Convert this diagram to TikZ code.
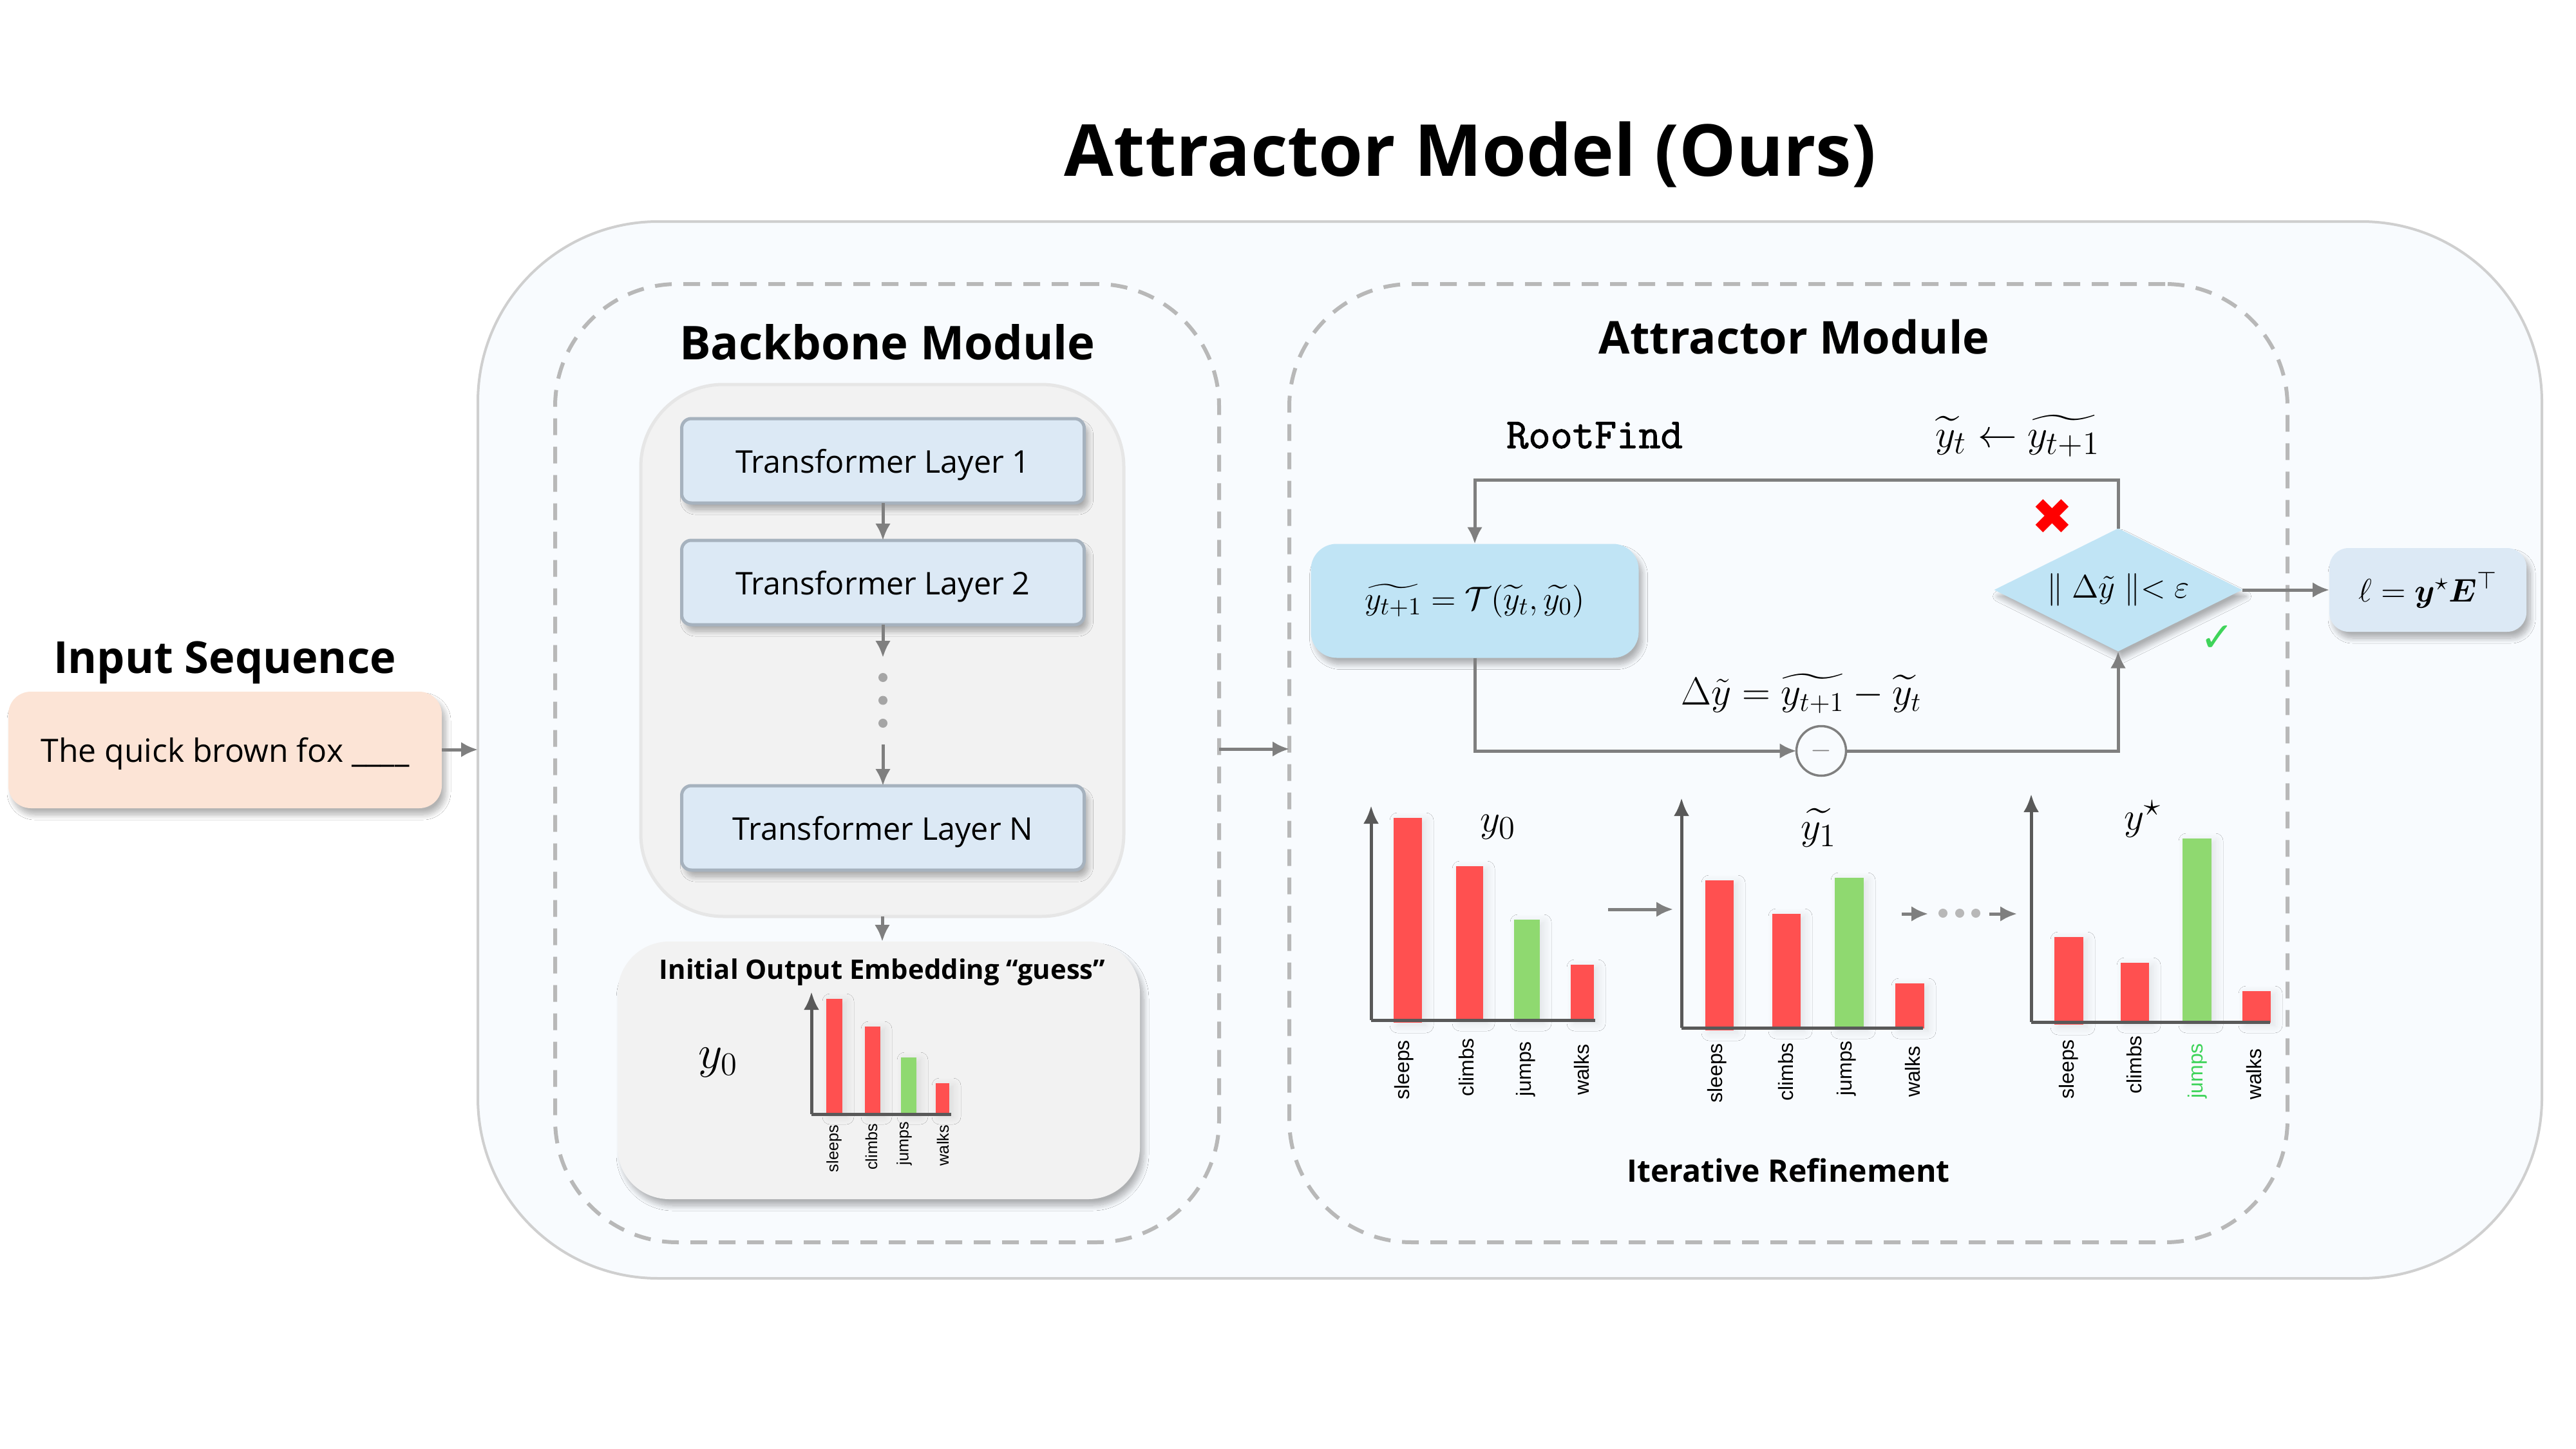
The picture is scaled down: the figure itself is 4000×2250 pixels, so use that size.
\documentclass[tikz,border=0pt]{standalone}
\usepackage{amsmath,amssymb}
\usepackage[no-math]{fontspec}
\setmainfont{Open Sans}
\newfontfamily\tickfont{Liberation Sans}
\newfontfamily\markfont{DejaVu Sans}
\newfontfamily\rootfont[FakeBold=1.6]{Latin Modern Mono}
\usepackage{xcolor}
\usepackage{tikz}
\usetikzlibrary{arrows.meta,positioning,shapes.geometric,shadows.blur}
\definecolor{panelfill}{HTML}{F8FBFE}
\definecolor{panelline}{HTML}{CFCFCF}
\definecolor{dashline}{HTML}{B8B8B8}
\definecolor{groupfill}{HTML}{F2F2F2}
\definecolor{groupline}{HTML}{E6E6E6}
\definecolor{layerfill}{HTML}{DCE9F5}
\definecolor{layerline}{HTML}{A6B2BE}
\definecolor{stepfill}{HTML}{C0E4F5}
\definecolor{inputfill}{HTML}{FCE4D6}
\definecolor{flowgray}{HTML}{7F7F7F}
\definecolor{axisgray}{HTML}{595959}
\definecolor{barred}{HTML}{FF5050}
\definecolor{bargreen}{HTML}{8FD970}
\definecolor{tickgreen}{HTML}{3FD45A}
\newcommand{\fsize}[1]{\fontsize{#1}{#1}\selectfont}
\newcommand{\yt}{\widetilde{y}}
\newcommand{\ytnext}{\widetilde{y_{t+1}}}
\tikzset{
  softshadow/.style={blur shadow={shadow xshift=0.6mm,shadow yshift=-1mm,shadow opacity=30,shadow blur radius=0.8mm,shadow blur steps=12}},
  barshadow/.style={blur shadow={shadow xshift=0.6mm,shadow yshift=-0.4mm,shadow opacity=10,shadow blur radius=1.2mm,shadow blur steps=12}},
  panel/.style={draw=panelline, line width=0.4mm, fill=panelfill, rounded corners=28mm},
  module/.style={draw=dashline, line width=0.6mm, dash pattern=on 2.6mm off 1.8mm, rounded corners=19mm},
  layerbox/.style={draw=layerline, line width=0.5mm, fill=layerfill, rounded corners=1.5mm, minimum width=62.5mm, minimum height=13.1mm, inner sep=0pt, text depth=0pt, font=\fsize{13.8}, softshadow},
  vdot/.style={circle, fill=flowgray!70, minimum size=1.4mm, inner sep=0pt},
  heading/.style={font=\fsize{20}\bfseries, inner sep=0pt},
  mathlabel/.style={font=\fsize{19}, inner sep=0pt},
  flow/.style={draw=flowgray, line width=0.5mm, -{Latex[length=2.6mm,width=2.4mm]}},
  axisline/.style={draw=axisgray, line width=0.5mm},
  axisarrow/.style={axisline, -{Latex[length=2.8mm,width=2.4mm]}},
  redbar/.style={fill=barred, barshadow},
  greenbar/.style={fill=bargreen, barshadow},
  bigtick/.style={rotate=90, anchor=east, inner sep=0pt, font=\tickfont\fsize{9.1}},
  smalltick/.style={rotate=90, anchor=east, inner sep=0pt, font=\tickfont\fsize{7.2}},
}
\begin{document}
\begin{tikzpicture}[x=0.1mm, y=-0.1mm, >=Latex, every node/.style={align=center, outer sep=0pt}]
  \useasboundingbox (0,0) rectangle (4000,2250);
  \fill[white] (0,0) rectangle (4000,2250);

  % Containers
  \node[heading, font=\fsize{31.7}\bfseries] (title) at (2283,240) {Attractor Model (Ours)};
  \node[panel, minimum width=320.5mm, minimum height=164.1mm] (outer) at (2344.5,1164.5) {};
  \node[module, minimum width=103.1mm, minimum height=148.8mm] (backbone) at (1377.5,1185) {};
  \node[module, minimum width=155.0mm, minimum height=148.8mm] (attractor) at (2777,1185) {};
  \node[heading, font=\fsize{20.6}\bfseries] (backbonetitle) at (1378,531) {Backbone Module};
  \node[heading] (attractortitle) at (2786,523) {Attractor Module};

  % Input
  \node[heading, font=\fsize{19.5}\bfseries] (inputtitle) at (349,1029) {Input Sequence};
  \node[fill=inputfill, rounded corners=3.5mm, minimum width=67.3mm, minimum height=18.1mm, text depth=0pt, font=\fsize{14.2}, softshadow] (input) at (349.5,1164.5) {The quick brown fox \_\_\_\_};

  % Backbone stack
  \node[draw=groupline, line width=0.5mm, fill=groupfill, rounded corners=12.8mm, minimum width=75mm, minimum height=82.6mm] (group) at (1370,1010) {};
  \node[layerbox] (layer1) at (1371,715.5) {Transformer Layer 1};
  \node[layerbox, below=5.8mm of layer1] (layer2) {Transformer Layer 2};
  \node[vdot, below=7.5mm of layer2] (dot1) {};
  \node[vdot, below=2.15mm of dot1] (dot2) {};
  \node[vdot, below=2.15mm of dot2] (dot3) {};
  \node[layerbox, below=9mm of dot3] (layerN) {Transformer Layer N};

  % Initial guess panel
  \node[fill=groupfill, rounded corners=8mm, minimum width=81.1mm, minimum height=40mm, softshadow] (guess) at (1364.5,1662) {};
  \node[font=\fsize{11.9}\bfseries, inner sep=0pt] (guesstitle) at (1370,1510) {Initial Output Embedding “guess"};
  \node[mathlabel, font=\fsize{22}] (guessy) at (1115,1650) {$y_0$};
  \fill[redbar] (1283,1551) rectangle (1308,1730);
  \fill[redbar] (1343,1594) rectangle (1367,1730);
  \fill[greenbar] (1399,1642) rectangle (1423,1730);
  \fill[redbar] (1453,1682) rectangle (1474,1730);
  \draw[axisline] (1260,1730) -- (1477,1730);
  \draw[axisarrow] (1260,1730) -- (1260,1540);
  \node[smalltick] (s1) at (1295,1747) {sleeps};
  \node[smalltick] (s2) at (1353,1745) {climbs};
  \node[smalltick] (s3) at (1404,1742) {jumps};
  \node[smalltick] (s4) at (1464,1747) {walks};

  % RootFind loop
  \node[font=\rootfont\fsize{18.9}, inner sep=0pt] (rootfind) at (2476,676) {RootFind};
  \node[mathlabel] (update) at (3133,677) {$\yt_t \leftarrow \ytnext$};
  \node[fill=stepfill, rounded corners=4mm, minimum width=50.9mm, minimum height=17.7mm, font=\fsize{15}, softshadow] (stepbox) at (2290,933) {$\ytnext = \mathcal{T}(\yt_t, \widetilde{y_0})$};
  \node[diamond, shape aspect=2.02, fill=stepfill, minimum width=38.5mm, minimum height=19.1mm, inner sep=0pt, font=\fsize{14.3}, softshadow] (decide) at (3289,916) {$\parallel \Delta\tilde{y} \parallel < \varepsilon$};
  \node[circle, draw=flowgray, line width=0.35mm, fill=panelfill, minimum size=7.7mm, inner sep=0pt, text=flowgray, font=\fsize{12}] (minus) at (2828,1166) {$-$};
  \coordinate (looptop) at (2800,745);
  \node[mathlabel, font=\fsize{18.3}] (delta) at (2797,1077) {$\Delta\tilde{y} = \ytnext - \yt_t$};
  \node[text=red, font=\markfont\fsize{22}, inner sep=0pt] (cross) at (3187,803) {✖};
  \node[text=tickgreen, font=\markfont\fsize{18}, inner sep=0pt] (check) at (3443,992) {✓};
  \node[fill=layerfill, rounded corners=3mm, minimum width=30.6mm, minimum height=13mm, font=\fsize{15.5}, softshadow] (loss) at (3770,916) {$\ell = \boldsymbol{y}^{\star}\boldsymbol{E}^{\top}$};

  % Refinement charts
  \fill[redbar] (2164,1270) rectangle (2208,1588);
  \fill[redbar] (2261,1345) rectangle (2303,1585);
  \fill[greenbar] (2351,1428) rectangle (2391,1585);
  \fill[redbar] (2439,1498) rectangle (2475,1585);
  \draw[axisline] (2129,1584) -- (2477,1584);
  \draw[axisarrow] (2129,1584) -- (2129,1251);
  \node[mathlabel] (y0) at (2326,1284) {$y_0$};
  \node[bigtick] (a1) at (2180,1615) {sleeps};
  \node[bigtick] (a2) at (2277,1612) {climbs};
  \node[bigtick] (a3) at (2369,1617) {jumps};
  \node[bigtick] (a4) at (2456,1621) {walks};

  \fill[redbar] (2648,1367) rectangle (2692,1600);
  \fill[redbar] (2752,1419) rectangle (2796,1597);
  \fill[greenbar] (2849,1363) rectangle (2894,1597);
  \fill[redbar] (2943,1527) rectangle (2988,1597);
  \draw[axisline] (2611,1596) -- (2986,1596);
  \draw[axisarrow] (2611,1596) -- (2611,1239);
  \node[mathlabel] (y1) at (2824,1285) {$\widetilde{y_1}$};
  \node[bigtick] (b1) at (2666,1620) {sleeps};
  \node[bigtick] (b2) at (2773,1619) {climbs};
  \node[bigtick] (b3) at (2867,1616) {jumps};
  \node[bigtick] (b4) at (2970,1624) {walks};

  \fill[redbar] (3190,1455) rectangle (3235,1591);
  \fill[redbar] (3293,1495) rectangle (3337,1588);
  \fill[greenbar] (3389,1302) rectangle (3434,1588);
  \fill[redbar] (3482,1539) rectangle (3526,1588);
  \draw[axisline] (3154,1587) -- (3525,1587);
  \draw[axisarrow] (3154,1587) -- (3154,1233);
  \node[mathlabel] (ystar) at (3327,1272) {$y^{\star}$};
  \node[bigtick] (c1) at (3212,1614) {sleeps};
  \node[bigtick] (c2) at (3314,1608) {climbs};
  \node[bigtick, text=tickgreen] (c3) at (3412,1620) {jumps};
  \node[bigtick] (c4) at (3500,1628) {walks};

  \coordinate (ref1a) at (2497,1412);
  \coordinate (ref1b) at (2598,1412);
  \coordinate (ref2a) at (2953,1419);
  \coordinate (ref2b) at (2994,1419);
  \coordinate (ref3a) at (3089,1419);
  \coordinate (ref3b) at (3132,1419);
  \node[vdot, fill=dashline] (rdot1) at (3017,1418) {};
  \node[vdot, fill=dashline] (rdot2) at (3043,1418) {};
  \node[vdot, fill=dashline] (rdot3) at (3068,1418) {};
  \node[font=\fsize{13.7}\bfseries, inner sep=0pt] (iter) at (2777,1817) {Iterative Refinement};

  % Arrows
  \draw[flow] (input.east |- 0,1164) -- (outer.west |- 0,1164);
  \draw[flow] (backbone.east |- 0,1163) -- (attractor.west |- 0,1163);
  \draw[flow] (layer1) -- (layer2);
  \draw[flow, shorten >=2.4mm] (layer2) -- (dot1);
  \draw[flow, shorten <=2.6mm] (dot3) -- (layerN);
  \draw[flow] (group.south -| guesstitle) -- (guess.north -| guesstitle);
  \draw[flow] (decide.north) |- (looptop) -| (stepbox.north);
  \draw[flow] (stepbox.south) |- (minus.west);
  \draw[flow] (minus.east) -| (decide.south);
  \draw[flow] (decide.east) -- (loss.west);
  \draw[flow] (ref1a) -- (ref1b);
  \draw[flow] (ref2a) -- (ref2b);
  \draw[flow] (ref3a) -- (ref3b);
\end{tikzpicture}
\end{document}
